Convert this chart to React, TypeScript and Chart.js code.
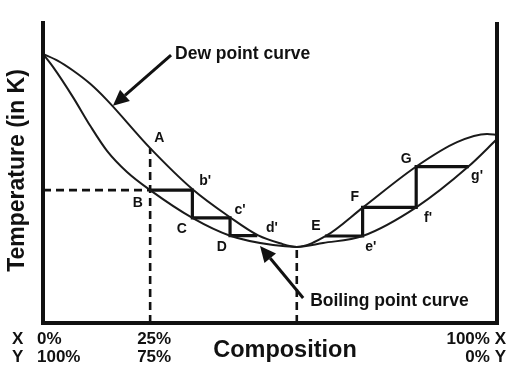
import React, { useEffect, useRef } from "react";
import { Chart, registerables } from "chart.js";

Chart.register(...registerables);

// Composition (x, % of axis span) and temperature (y, arbitrary 0-100) readings
const dewX = [0, 3.3, 6.6, 10.4, 14.1, 23.6, 33.0, 41.2, 47.4, 52.2, 55.9, 62.4, 70.5, 82.3, 91.2, 97.8, 100];
const dewY = [89.1, 86.8, 83.6, 79.2, 73.8, 57.9, 44.2, 35.0, 29.0, 26.4, 25.2, 28.9, 38.3, 51.9, 59.9, 62.6, 62.3];

const boilX = [0, 2.2, 6.6, 10.4, 14.1, 18.5, 23.6, 32.9, 41.2, 50.7, 55.9, 61.7, 70.4, 82.2, 93.7, 100];
const boilY = [89.1, 84.8, 74.8, 65.3, 57.0, 50.0, 44.0, 34.8, 28.9, 25.8, 25.2, 26.5, 28.8, 38.3, 51.8, 60.9];

const stepLeftX = [23.6, 32.9, 32.9, 41.2, 41.2, 47.2];
const stepLeftY = [44.0, 44.0, 34.8, 34.8, 28.9, 28.9];
const stepRightX = [62.1, 70.4, 70.4, 82.2, 82.2, 93.8];
const stepRightY = [28.8, 28.8, 38.3, 38.3, 51.8, 51.8];

const dashAX = [23.6, 23.6];
const dashAY = [0, 57.9];
const dashBX = [0, 23.6];
const dashBY = [44.0, 44.0];
const dashMinX = [55.9, 55.9];
const dashMinY = [0, 25.2];

const pointLabels = ["A", "B", "C", "D", "E", "F", "G", "b'", "c'", "d'", "e'", "f'", "g'"];
const pointLabelX = [25.6, 20.9, 30.6, 39.4, 60.1, 68.7, 80.0, 35.7, 43.4, 50.4, 72.2, 84.8, 95.6];
const pointLabelY = [61.3, 39.7, 31.1, 25.2, 32.1, 41.7, 54.3, 47.0, 37.4, 31.5, 25.2, 34.8, 48.7];

const xTickValues = [0, 23.6, 100];
const xTickTop = ["0%", "25%", "100% X"];
const xTickBottom = ["100%", "75%", "0% Y"];
const xTitle = "Composition";
const yTitle = "Temperature (in K)";

const dewLabel = "Dew point curve";
const boilLabel = "Boiling point curve";
// arrows: [tailX, tailY, tipX, tipY] in data units
const dewArrow = [28.2, 88.7, 15.4, 71.9];
const boilArrow = [57.3, 8.3, 47.8, 25.5];

const pts = (xs: number[], ys: number[]) => xs.map((x, i) => ({ x, y: ys[i] }));

const FONT = "'Liberation Sans', Arial, sans-serif";
const INK = "#111";

function drawArrow(ctx: CanvasRenderingContext2D, x1: number, y1: number, x2: number, y2: number) {
  const ang = Math.atan2(y2 - y1, x2 - x1);
  const len = 16;
  const hw = 7.5;
  const bx = x2 - len * Math.cos(ang);
  const by = y2 - len * Math.sin(ang);
  ctx.save();
  ctx.strokeStyle = INK;
  ctx.fillStyle = INK;
  ctx.lineWidth = 3;
  ctx.beginPath();
  ctx.moveTo(x1, y1);
  ctx.lineTo(bx, by);
  ctx.stroke();
  ctx.beginPath();
  ctx.moveTo(x2, y2);
  ctx.lineTo(bx + hw * Math.sin(ang), by - hw * Math.cos(ang));
  ctx.lineTo(bx - hw * Math.sin(ang), by + hw * Math.cos(ang));
  ctx.closePath();
  ctx.fill();
  ctx.restore();
}

const decorPlugin = {
  id: "decor",
  afterDatasetsDraw(chart: any) {
    const ctx: CanvasRenderingContext2D = chart.ctx;
    const xs = chart.scales.x;
    const ys = chart.scales.y;
    const a = chart.chartArea;
    const px = (v: number) => xs.getPixelForValue(v);
    const py = (v: number) => ys.getPixelForValue(v);

    ctx.save();
    // axes
    ctx.strokeStyle = INK;
    ctx.lineWidth = 4;
    ctx.lineCap = "butt";
    ctx.beginPath();
    ctx.moveTo(a.left, a.top);
    ctx.lineTo(a.left, a.bottom);
    ctx.lineTo(a.right, a.bottom);
    ctx.lineTo(a.right, a.top + 1);
    ctx.stroke();

    // arrows
    drawArrow(ctx, px(dewArrow[0]), py(dewArrow[1]), px(dewArrow[2]), py(dewArrow[3]));
    drawArrow(ctx, px(boilArrow[0]), py(boilArrow[1]), px(boilArrow[2]), py(boilArrow[3]));

    ctx.fillStyle = INK;
    ctx.textBaseline = "middle";

    // curve labels
    ctx.font = `bold 17.5px ${FONT}`;
    ctx.textAlign = "left";
    ctx.fillText(dewLabel, px(dewArrow[0]) + 4, py(dewArrow[1]) - 1);
    ctx.fillText(boilLabel, px(boilArrow[0]) + 7, py(boilArrow[1]) + 3);

    // point labels
    ctx.font = `bold 14px ${FONT}`;
    ctx.textAlign = "center";
    pointLabels.forEach((t, i) => ctx.fillText(t, px(pointLabelX[i]), py(pointLabelY[i])));

    // x tick labels
    ctx.font = `bold 17px ${FONT}`;
    const r1 = a.bottom + 16;
    const r2 = a.bottom + 34;
    ctx.textAlign = "left";
    ctx.fillText("X", px(xTickValues[0]) - 31, r1);
    ctx.fillText("Y", px(xTickValues[0]) - 31, r2);
    ctx.fillText(xTickTop[0], px(xTickValues[0]) - 6, r1);
    ctx.fillText(xTickBottom[0], px(xTickValues[0]) - 6, r2);
    ctx.textAlign = "center";
    ctx.fillText(xTickTop[1], px(xTickValues[1]) + 4, r1);
    ctx.fillText(xTickBottom[1], px(xTickValues[1]) + 4, r2);
    ctx.textAlign = "right";
    ctx.fillText(xTickTop[2], px(xTickValues[2]) + 9, r1);
    ctx.fillText(xTickBottom[2], px(xTickValues[2]) + 9, r2);

    // axis titles
    ctx.font = `bold 23.5px ${FONT}`;
    ctx.textAlign = "center";
    ctx.fillText(xTitle, px(53.3), a.bottom + 28);
    ctx.save();
    ctx.translate(18, py(50.5));
    ctx.rotate(-Math.PI / 2);
    ctx.font = `bold 23px ${FONT}`;
    ctx.fillText(yTitle, 0, 0);
    ctx.restore();

    ctx.restore();
  },
};

export default function App() {
  const ref = useRef<HTMLCanvasElement | null>(null);
  useEffect(() => {
    if (!ref.current) return;
    const curve = { borderColor: "#1a1a1a", borderWidth: 2, pointRadius: 0, tension: 0.4, cubicInterpolationMode: "monotone" as const, fill: false };
    const step = { borderColor: INK, borderWidth: 3.2, pointRadius: 0, tension: 0, fill: false };
    const dash = { borderColor: INK, borderWidth: 2.6, pointRadius: 0, tension: 0, borderDash: [8, 5], fill: false };
    const chart = new Chart(ref.current, {
      type: "line",
      data: {
        datasets: [
          { label: "Dew point curve", data: pts(dewX, dewY), ...curve },
          { label: "Boiling point curve", data: pts(boilX, boilY), ...curve },
          { label: "Steps left", data: pts(stepLeftX, stepLeftY), ...step },
          { label: "Steps right", data: pts(stepRightX, stepRightY), ...step },
          { label: "Dash A", data: pts(dashAX, dashAY), ...dash },
          { label: "Dash B", data: pts(dashBX, dashBY), ...dash },
          { label: "Dash min", data: pts(dashMinX, dashMinY), ...dash },
        ],
      },
      options: {
        animation: false,
        responsive: false,
        devicePixelRatio: 1,
        layout: { padding: { left: 43, right: 18, top: 21, bottom: 55 } },
        plugins: { legend: { display: false }, tooltip: { enabled: false } },
        scales: {
          x: { type: "linear", min: 0, max: 100, display: false },
          y: { type: "linear", min: 0, max: 100, display: false },
        },
      },
      plugins: [decorPlugin],
    });
    return () => chart.destroy();
  }, []);
  return (
    <div style={{ position: "fixed", left: 0, top: 0, width: 515, height: 378, background: "#fff" }}>
      <canvas ref={ref} width={515} height={378} />
    </div>
  );
}
